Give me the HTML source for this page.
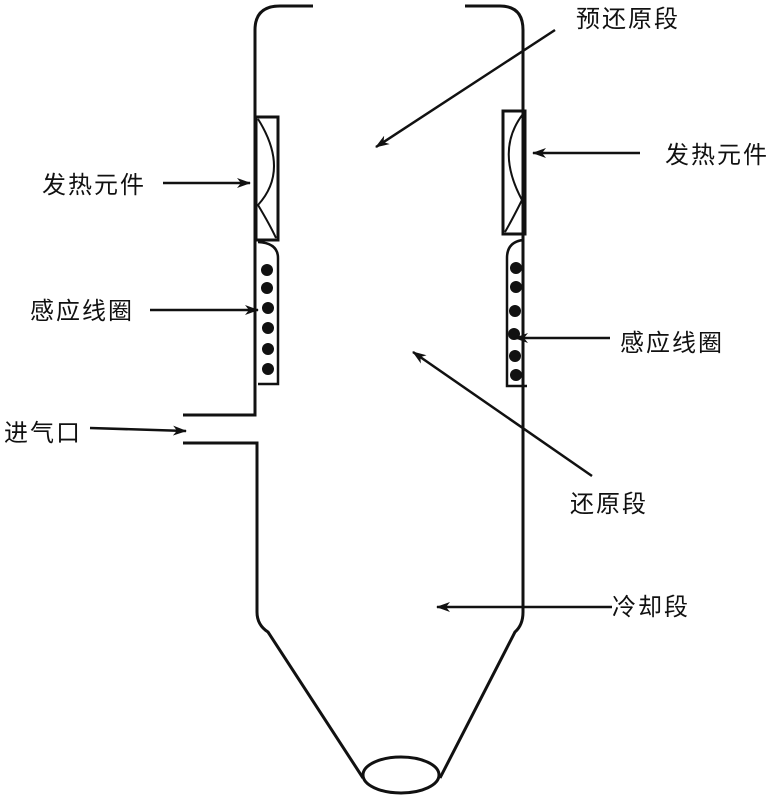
<!DOCTYPE html>
<html><head><meta charset="utf-8"><style>
body{margin:0;background:#fff;}
svg text{font-family:"Liberation Sans","Noto Sans CJK SC",sans-serif;font-size:24px;letter-spacing:2px;fill:#111;}
</style></head><body>
<svg width="776" height="800" viewBox="0 0 776 800" xmlns="http://www.w3.org/2000/svg">
<defs><marker id="a" markerWidth="14" markerHeight="10" refX="13" refY="5" orient="auto" markerUnits="userSpaceOnUse"><path d="M0,0 L14,5 L0,10 L4,5 z" fill="#111"/></marker></defs>
<g fill="none" stroke="#111" stroke-width="3">
<path d="M313,6 L280,6 Q255,6 255,30 L255,415 L183,415"/>
<path d="M183,443 L257,443 L257,612 Q257,625 268,632 L363,778"/>
<path d="M465,6 L500,6 Q523,6 523,30 L523,612 Q523,625 515,632 L440,778"/>
<ellipse cx="401" cy="775" rx="38" ry="18"/>
<rect x="256" y="117" width="22" height="123"/>
<path d="M258,119 Q290,170 258,205 Q270,225 276,238" stroke-width="2"/>
<rect x="503" y="111" width="22" height="123"/>
<path d="M523,114 Q495,150 522,200 Q512,220 505,232" stroke-width="2"/>
<path d="M258,384 L278,384 L278,258 Q278,243 258,242" stroke-width="2.5"/>
<path d="M523,240 Q507,242 507,258 L507,386 L527,386" stroke-width="2.5"/>
</g>
<g fill="#111">
<circle cx="267" cy="270" r="6"/><circle cx="267" cy="288" r="6"/><circle cx="268" cy="308" r="6"/><circle cx="268" cy="328" r="6"/><circle cx="268" cy="349" r="6"/><circle cx="268" cy="369" r="6"/>
<circle cx="516" cy="268" r="6"/><circle cx="516" cy="287" r="6"/><circle cx="515" cy="311" r="6"/><circle cx="514" cy="334" r="6"/><circle cx="515" cy="356" r="6"/><circle cx="516" cy="375" r="6"/>
</g>
<g stroke="#111" stroke-width="2.5" marker-end="url(#a)">
<line x1="555" y1="30" x2="376" y2="147"/>
<line x1="640" y1="153" x2="533" y2="153"/>
<line x1="163" y1="183" x2="250" y2="183"/>
<line x1="150" y1="310" x2="258" y2="310"/>
<line x1="610" y1="338" x2="515" y2="338"/>
<line x1="90" y1="428" x2="186" y2="431"/>
<line x1="592" y1="476" x2="413" y2="352"/>
<line x1="612" y1="607" x2="437" y2="607"/>
</g>
<text x="576" y="27">预还原段</text>
<text x="665" y="163">发热元件</text>
<text x="42" y="193">发热元件</text>
<text x="30" y="319">感应线圈</text>
<text x="620" y="351">感应线圈</text>
<text x="4" y="441">进气口</text>
<text x="570" y="512">还原段</text>
<text x="612" y="615">冷却段</text>
</svg>
</body></html>
